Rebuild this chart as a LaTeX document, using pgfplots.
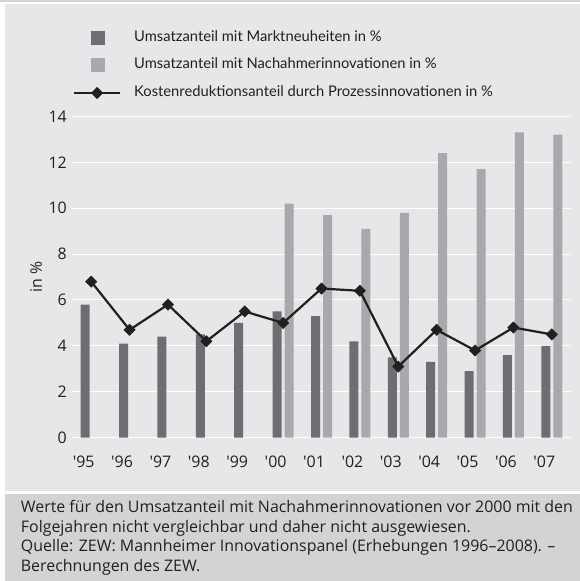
\documentclass[border=0pt]{standalone}
\usepackage{pgfplots}
\pgfplotsset{compat=1.18}
\usepackage{fontspec}
\setmainfont{Open Sans}
\newfontfamily\legendfont{Lato}

\definecolor{panel}{HTML}{E6E7E8}
\definecolor{foot}{HTML}{D1D3D4}
\definecolor{darkbar}{HTML}{6D6E71}
\definecolor{lightbar}{HTML}{A7A9AC}
\definecolor{linecol}{HTML}{231F20}

\pgfplotsset{
    linelegend/.style={legend image code/.code={%
        \draw[mark repeat=2, mark phase=2, ##1] plot coordinates {(0bp,0bp) (23bp,0bp) (46bp,0bp)};}},
    darklegend/.style={legend image code/.code={%
        \path (0bp,0bp) (46bp,0bp); \fill[darkbar] (16.5bp,-7bp) rectangle (30.5bp,7bp);}},
    lightlegend/.style={legend image code/.code={%
        \path (0bp,0bp) (46bp,0bp); \fill[lightbar] (16.5bp,-7bp) rectangle (30.5bp,7bp);}},
}

\begin{document}
\begin{tikzpicture}[x=1bp,y=1bp]
\useasboundingbox (0,0) rectangle (580,581);
% background panels
\fill[foot] (0,578.7) rectangle (580,581);
\fill[panel] (5,90) rectangle (580,577);
\fill[foot] (5,0) rectangle (580,86.7);

\begin{axis}[
    at={(72bp,143.3bp)}, anchor=south west,
    width=499bp, height=321.3bp, scale only axis,
    xmin=-0.5, xmax=12.5, ymin=0, ymax=14,
    xtick={0,...,12},
    xticklabels={\textquotesingle95,\textquotesingle96,\textquotesingle97,\textquotesingle98,\textquotesingle99,\textquotesingle00,\textquotesingle01,\textquotesingle02,\textquotesingle03,\textquotesingle04,\textquotesingle05,\textquotesingle06,\textquotesingle07},
    ytick={0,2,...,14},
    axis line style={draw=none},
    major tick length=0pt, tick style={draw=none},
    ymajorgrids, grid style={white, line width=1bp},
    /pgf/number format/assume math mode=true,
    tick label style={font=\fontsize{16}{18}\selectfont, text=linecol},
    xticklabel style={anchor=center, yshift=-24.3bp, xshift=-7.5bp},
    yticklabel style={anchor=east, inner xsep=0pt, xshift=-5bp},
    ylabel={in \%},
    ylabel style={at={(axis description cs:-0.072,0.5)}, anchor=center, font=\fontsize{16}{18}\selectfont, text=linecol},
    legend style={
        at={(axis description cs:0.002,1.2674)}, anchor=north west,
        draw=none, fill=none, inner sep=0pt, outer sep=0pt,
        font=\legendfont\fontsize{14.8}{16}\selectfont,
        row sep=12.5bp,
        cells={anchor=west},
        nodes={inner sep=0pt, text height=11bp, text depth=4bp, text=linecol},
        /tikz/every odd column/.append style={column sep=13bp},
    },
    legend cell align=left,
]
\addplot[ybar, bar width=9bp, bar shift=-6bp, fill=darkbar, draw=none, darklegend]
coordinates {(0,5.8) (1,4.1) (2,4.4) (3,4.5) (4,5.0) (5,5.5) (6,5.3) (7,4.2) (8,3.5) (9,3.3) (10,2.9) (11,3.6) (12,4.0)};
\addlegendentry{Umsatzanteil mit Marktneuheiten in \%}

\addplot[ybar, bar width=9bp, bar shift=6bp, fill=lightbar, draw=none, lightlegend]
coordinates {(5,10.2) (6,9.7) (7,9.1) (8,9.8) (9,12.4) (10,11.7) (11,13.3) (12,13.2)};
\addlegendentry{Umsatzanteil mit Nachahmerinnovationen in \%}

\addplot[linecol, line width=2.2bp, mark=square*, mark size=4bp,
    mark options={rotate=45, line width=0.5bp, fill=linecol}, linelegend]
coordinates {(0,6.8) (1,4.7) (2,5.8) (3,4.2) (4,5.5) (5,5.0) (6,6.5) (7,6.4) (8,3.1) (9,4.7) (10,3.8) (11,4.8) (12,4.5)};
\addlegendentry{Kostenreduktionsanteil durch Prozessinnovationen in \%}
\end{axis}

% footnote
\begin{scope}[every node/.style={anchor=base west, inner sep=0pt, text=linecol, font=\fontsize{16}{18}\selectfont}]
\node at (20.7,68) {Werte für den Umsatzanteil mit Nachahmerinnovationen vor 2000 mit den};
\node at (20.7,48.5) {Folgejahren nicht vergleichbar und daher nicht ausgewiesen.};
\node at (20.7,29) {Quelle: ZEW: Mannheimer Innovationspanel (Erhebungen 1996–2008). –};
\node at (20.7,9.5) {Berechnungen des ZEW.};
\end{scope}
\end{tikzpicture}
\end{document}
